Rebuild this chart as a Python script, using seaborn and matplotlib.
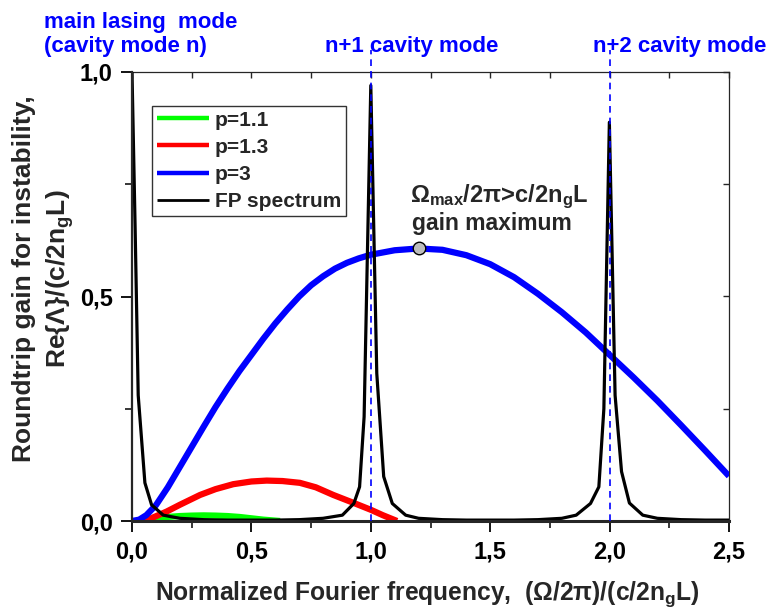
import matplotlib
matplotlib.use("Agg")
import matplotlib.pyplot as plt
from matplotlib.ticker import MultipleLocator, FuncFormatter
import pandas as pd
import seaborn as sns

# Instability gain curves for three pump levels p
freq_p11 = [0.05, 0.10, 0.15, 0.20, 0.25, 0.30, 0.35, 0.40, 0.45, 0.50, 0.55, 0.62]
gain_p11 = [0.0, 0.005, 0.009, 0.011, 0.012, 0.0125, 0.012, 0.011, 0.009, 0.006, 0.003, 0.0]

freq_p13 = [0.04, 0.08, 0.145, 0.20, 0.285, 0.35, 0.424, 0.50, 0.564, 0.63, 0.703,
            0.77, 0.843, 0.92, 1.00, 1.05, 1.11]
gain_p13 = [0.0, 0.006, 0.021, 0.036, 0.058, 0.071, 0.082, 0.088, 0.090, 0.089, 0.085,
            0.075, 0.058, 0.042, 0.025, 0.013, 0.0]

freq_p3 = [0.0, 0.03, 0.06, 0.10, 0.15, 0.20, 0.25, 0.30, 0.35, 0.40, 0.45, 0.50, 0.55,
           0.60, 0.65, 0.70, 0.75, 0.80, 0.85, 0.90, 0.95, 1.00, 1.10, 1.20, 1.30, 1.40,
           1.50, 1.60, 1.70, 1.80, 1.90, 2.00, 2.10, 2.20, 2.30, 2.40, 2.50]
gain_p3 = [0.0, 0.003, 0.013, 0.035, 0.075, 0.12, 0.165, 0.21, 0.254, 0.295, 0.334, 0.37,
           0.406, 0.44, 0.471, 0.50, 0.525, 0.545, 0.562, 0.575, 0.585, 0.593, 0.603,
           0.607, 0.604, 0.592, 0.572, 0.543, 0.506, 0.465, 0.42, 0.37, 0.32, 0.268,
           0.213, 0.157, 0.100]

# Fabry-Perot transmission of the cavity
fp_freq = [0.000, 0.013, 0.026, 0.054, 0.082, 0.131, 0.20, 0.30, 0.40, 0.50, 0.60, 0.70,
           0.80, 0.881, 0.929, 0.953, 0.972, 1.000, 1.025, 1.054, 1.090, 1.146, 1.20,
           1.30, 1.40, 1.50, 1.60, 1.70, 1.80, 1.86, 1.92, 1.955, 1.976, 1.999, 2.023,
           2.05, 2.083, 2.139, 2.20, 2.30, 2.40, 2.50]
fp_trans = [1.000, 0.655, 0.280, 0.085, 0.036, 0.013, 0.006, 0.003, 0.002, 0.002, 0.002,
            0.003, 0.006, 0.013, 0.039, 0.076, 0.232, 0.970, 0.329, 0.099, 0.039, 0.013,
            0.006, 0.003, 0.002, 0.002, 0.002, 0.003, 0.006, 0.013, 0.039, 0.076, 0.25,
            0.888, 0.28, 0.11, 0.04, 0.013, 0.006, 0.003, 0.002, 0.002]

cavity_modes = [1.0, 2.0]
gain_max_freq = 1.2
gain_max_value = 0.607

series_labels = ["p=1.1", "p=1.3", "p=3", "FP spectrum"]

sns.set_theme(style="ticks")
plt.rcParams["font.family"] = ["Liberation Sans", "DejaVu Sans"]
plt.rcParams["font.weight"] = "bold"
plt.rcParams["mathtext.fontset"] = "custom"
plt.rcParams["mathtext.rm"] = "Liberation Sans:bold"
plt.rcParams["mathtext.it"] = "Liberation Sans:bold"
plt.rcParams["mathtext.bf"] = "Liberation Sans:bold"

W, H = 770, 613
fig = plt.figure(figsize=(W / 100, H / 100), dpi=100)
ax = fig.add_axes([132 / W, 1 - 521 / H, 597 / W, 449 / H])

curves = [
    (freq_p11, gain_p11, "#00ff00", 4.5),
    (freq_p13, gain_p13, "#ff0000", 4.5),
    (freq_p3, gain_p3, "#0000ff", 4.5),
    (fp_freq, fp_trans, "black", 2.3),
]
for (fx, fy, col, lw), lab in zip(curves, series_labels):
    df = pd.DataFrame({"f": fx, "g": fy})
    sns.lineplot(data=df, x="f", y="g", ax=ax, color=col, lw=lw, label=lab,
                 sort=False, estimator=None, solid_capstyle="butt",
                 solid_joinstyle="round")

for m in cavity_modes:
    ax.axvline(m, ymin=0, ymax=1.05, color="#0000ff", lw=1.2, ls=(0, (4, 3)),
               clip_on=False, zorder=5)

ax.plot([gain_max_freq], [gain_max_value], "o", ms=9, mfc="#bdbdbd", mec="black",
        mew=1.0, zorder=6, label="_nolegend_")

ax.set_xlim(0, 2.5)
ax.set_ylim(0, 1.0)
ax.set_xlabel("")
ax.set_ylabel("")

comma = FuncFormatter(lambda v, p: f"{v:.1f}".replace(".", ","))
ax.xaxis.set_major_locator(MultipleLocator(0.5))
ax.xaxis.set_minor_locator(MultipleLocator(0.25))
ax.yaxis.set_major_locator(MultipleLocator(0.5))
ax.yaxis.set_minor_locator(MultipleLocator(0.25))
ax.xaxis.set_major_formatter(comma)
ax.yaxis.set_major_formatter(comma)
ax.tick_params(which="major", direction="out", length=8, width=1.3, labelsize=17,
               colors="black", pad=6)
ax.tick_params(which="minor", direction="out", length=5, width=1.3)
for t in ax.get_xticklabels() + ax.get_yticklabels():
    t.set_fontweight("bold")

ax.spines["left"].set_linewidth(1.6)
ax.spines["bottom"].set_linewidth(2.2)
ax.spines["top"].set_visible(False)
ax.spines["right"].set_visible(False)

top = ax.secondary_xaxis("top")
top.xaxis.set_major_locator(MultipleLocator(0.25))
top.tick_params(direction="in", length=4, width=1.0, labeltop=False)
top.spines["top"].set_linewidth(0.9)
right = ax.secondary_yaxis("right")
right.yaxis.set_major_locator(MultipleLocator(0.25))
right.tick_params(direction="in", length=4, width=1.0, labelright=False)
right.spines["right"].set_linewidth(0.9)

leg = ax.legend(loc="upper left", bbox_to_anchor=((152 - 132) / 597, (521 - 106) / 449),
                borderaxespad=0, frameon=True, fancybox=False, shadow=False,
                prop={"size": 15, "weight": "bold"}, handlelength=2.5,
                handletextpad=0.3, labelspacing=0.39, borderpad=0.22)
leg.get_frame().set_edgecolor("black")
leg.get_frame().set_linewidth(1.0)
for h, lw in zip(leg.legend_handles, [3.2, 3.2, 3.2, 2.0]):
    h.set_linewidth(lw)

# Annotation at the gain maximum
ax.text(499 / W, 1 - 202 / H, r"$\Omega_{max}$/2π>c/2n$_g$L", transform=fig.transFigure,
        ha="center", va="baseline", fontsize=17, fontweight="bold")
ax.text(492 / W, 1 - 230 / H, "gain maximum", transform=fig.transFigure,
        ha="center", va="baseline", fontsize=16.5, fontweight="bold")

# Cavity mode labels above the plot
blue = "#0000ff"
fig.text(44 / W, 1 - 28 / H, "main lasing  mode", color=blue, fontsize=16,
         fontweight="bold", va="baseline")
fig.text(44 / W, 1 - 52 / H, "(cavity mode n)", color=blue, fontsize=16,
         fontweight="bold", va="baseline")
fig.text(325 / W, 1 - 52 / H, "n+1 cavity mode", color=blue, fontsize=16,
         fontweight="bold", va="baseline")
fig.text(766 / W, 1 - 52 / H, "n+2 cavity mode", color=blue, fontsize=16,
         fontweight="bold", va="baseline", ha="right")

# Axis titles
fig.text(427 / W, 1 - 600 / H, r"Normalized Fourier frequency,  (Ω/2π)/(c/2n$_g$L)",
         ha="center", va="baseline", fontsize=17.7, fontweight="bold")
fig.text(44 / W, 1 - 279 / H, "Roundtrip gain for instability,\nRe{Λ}/(c/2n$_g$L)",
         ha="center", va="center", rotation=90, multialignment="center",
         fontsize=19, fontweight="bold", linespacing=1.37)

fig.savefig("out.png", dpi=100)
